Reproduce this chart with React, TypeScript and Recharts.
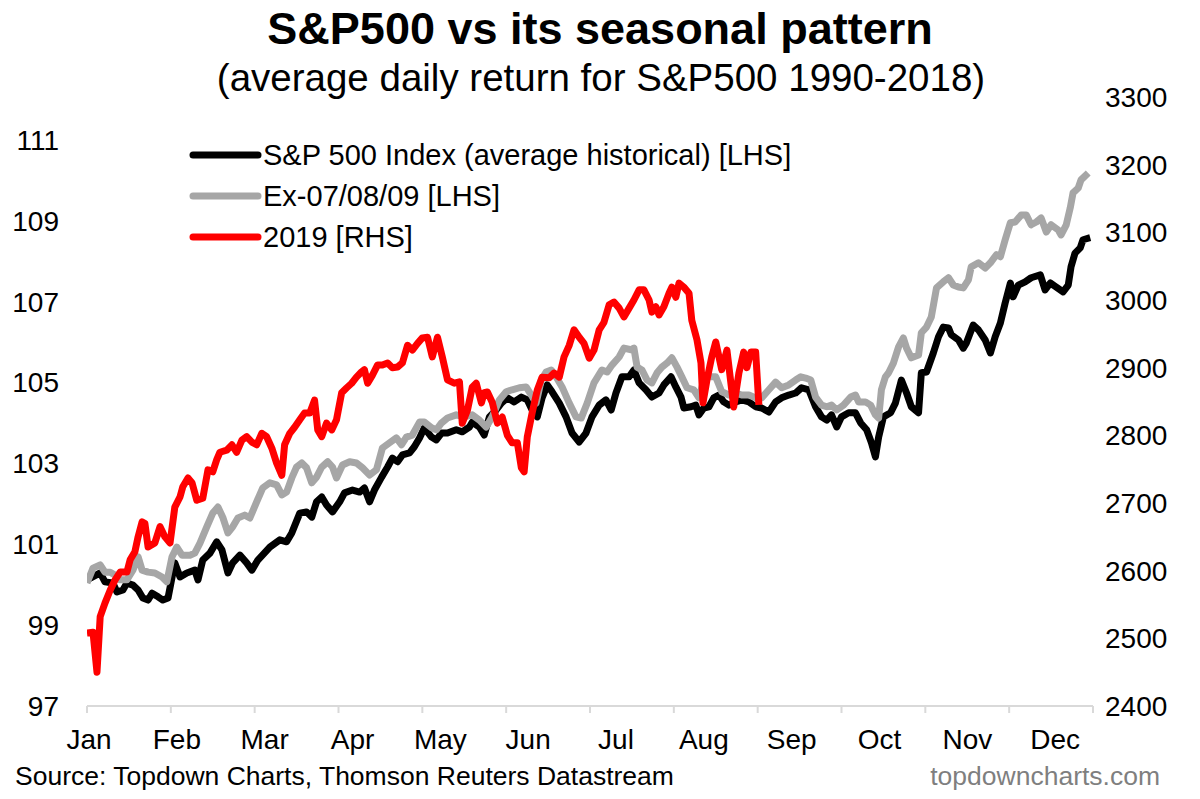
import React from 'react';
import { LineChart, Line, XAxis, YAxis } from 'recharts';

// trading-day index (0..252) vs value
const avgHistorical: [number, number][] = [
    [0, 100.12], [3.3, 100.29], [4.5, 100.07], [6.5, 100.04], [7.5, 99.82], [9, 99.87], [10, 100.04], [11.5, 99.99],
    [12.8, 99.87], [14, 99.67], [15.3, 99.62], [16.3, 99.79], [17.8, 99.7], [19, 99.62], [20.3, 99.67], [22, 100.54],
    [23.3, 100.19], [25, 100.29], [27, 100.36], [27.8, 100.12], [29, 100.61], [30.8, 100.78], [32.5, 101.06], [33.8, 100.86],
    [35.3, 100.29], [36.5, 100.54], [38.3, 100.73], [40, 100.54], [41.3, 100.36], [42.8, 100.61], [45.8, 100.93], [48.3, 101.11],
    [50, 101.06], [51.3, 101.28], [53.3, 101.77], [55, 101.8], [56.3, 101.67], [57.5, 102.05], [58.8, 102.17], [60, 101.97],
    [61.5, 101.8], [63.3, 102.05], [64.5, 102.27], [66.5, 102.34], [68.3, 102.29], [69.5, 102.39], [70.8, 102.05], [72, 102.34],
    [73.8, 102.66], [75.3, 102.91], [76.5, 103.13], [77.8, 103.04], [79, 103.21], [80.8, 103.26], [82, 103.41], [83.3, 103.63],
    [84.5, 103.88], [86.3, 103.65], [87.5, 103.58], [88.8, 103.75], [90.3, 103.75], [92.5, 103.83], [94, 103.78], [95.8, 103.9],
    [96.5, 104.02], [98.3, 103.9], [99.5, 103.7], [100.8, 104.15], [102.5, 104.32], [103.8, 104.49], [105.3, 104.62], [107, 104.52],
    [108.8, 104.64], [110.3, 104.57], [111.5, 104.32], [112.8, 104.15], [114, 104.62], [115.3, 104.94], [116.5, 104.77], [118.3, 104.49],
    [120, 104.15], [121.5, 103.75], [123.3, 103.53], [125, 103.75], [126.5, 104.15], [128.3, 104.44], [130, 104.57], [131.3, 104.32],
    [132.5, 104.74], [134, 105.14], [135.8, 105.14], [137, 105.31], [138.3, 104.99], [140, 104.82], [141.5, 104.64], [143.3, 104.74],
    [144.5, 104.94], [146.3, 105.14], [147.5, 104.89], [148.8, 104.64], [149.5, 104.37], [151.3, 104.4], [152.5, 104.44], [153.3, 104.2],
    [154.5, 104.37], [155.8, 104.4], [157, 104.62], [158.3, 104.69], [159.5, 104.52], [160.8, 104.44], [162.5, 104.52], [164, 104.57],
    [165.8, 104.52], [167.5, 104.4], [169, 104.37], [170.8, 104.27], [172.5, 104.52], [174, 104.62], [175.8, 104.69], [177.5, 104.74],
    [179, 104.87], [180.8, 104.82], [182.5, 104.4], [184, 104.15], [185.3, 104.07], [186.5, 104.2], [187.8, 103.9], [189, 104.15],
    [190.8, 104.25], [192.5, 104.25], [193.8, 104.0], [195.3, 103.83], [196.5, 103.51], [197.5, 103.16], [198.3, 103.65], [199.5, 104.15],
    [201.3, 104.25], [202.5, 104.49], [204, 105.06], [205.3, 104.74], [206.5, 104.4], [208.3, 104.25], [209, 105.24], [210.3, 105.26],
    [212, 105.73], [213.3, 106.13], [214.5, 106.37], [215.8, 106.35], [216.5, 106.18], [218.3, 106.05], [219.5, 105.85], [220.3, 105.98],
    [222, 106.42], [223.3, 106.3], [225, 106.05], [226.3, 105.73], [227.5, 106.13], [228.8, 106.47], [230, 106.97], [231.3, 107.46],
    [232, 107.12], [233.3, 107.41], [235, 107.49], [236.5, 107.59], [238.8, 107.66], [240, 107.29], [241.3, 107.46], [242.8, 107.36],
    [244.5, 107.24], [245.8, 107.41], [246.5, 107.86], [247.5, 108.2], [248.8, 108.33], [249.5, 108.53], [251.3, 108.58],
];

const ex070809: [number, number][] = [
    [0, 100.04], [1.5, 100.41], [3.3, 100.49], [4.5, 100.31], [5.8, 100.31], [7, 100.24], [8.3, 100.12], [10, 100.12],
    [11.5, 100.36], [12.8, 100.69], [13.8, 100.36], [15.3, 100.31], [17, 100.29], [18.8, 100.19], [20, 100.07], [21.3, 100.69],
    [22.5, 100.93], [23.8, 100.73], [25.8, 100.73], [27, 100.78], [28.3, 101.03], [30, 101.43], [31.5, 101.77], [32.8, 101.92],
    [34, 101.67], [35.3, 101.28], [36.5, 101.43], [37.8, 101.65], [39.5, 101.72], [40.8, 101.65], [42.5, 102.05], [44, 102.39],
    [45.8, 102.52], [47.5, 102.47], [48.8, 102.22], [50, 102.29], [51.3, 102.64], [52.5, 102.91], [53.8, 103.01], [55, 102.89],
    [56.3, 102.52], [57.5, 102.66], [58.8, 102.91], [60.3, 103.04], [61.5, 102.91], [62.5, 102.64], [64, 102.96], [65.8, 103.04],
    [67.5, 103.01], [69, 102.89], [70.8, 102.71], [72.5, 102.84], [74, 103.38], [75.8, 103.51], [77.5, 103.63], [78.8, 103.46],
    [80, 103.65], [81.5, 103.7], [83.3, 104.02], [84.5, 104.02], [86.3, 103.88], [87.5, 103.83], [88.8, 104.0], [90.3, 104.12],
    [92.5, 104.2], [94.5, 104.15], [96.5, 104.2], [98.3, 104.07], [100, 103.9], [101.5, 104.15], [103.3, 104.57], [105, 104.77],
    [106.5, 104.82], [108.3, 104.87], [110, 104.89], [111.3, 104.69], [112.5, 104.49], [113.8, 105.06], [115, 105.26], [116.3, 105.31],
    [117.5, 105.14], [119, 104.89], [120.8, 104.49], [122.5, 104.15], [123.8, 104.12], [125.3, 104.49], [127, 104.99], [129, 105.31],
    [130.3, 105.26], [131.5, 105.43], [133.3, 105.63], [134.5, 105.85], [136.3, 105.81], [137, 105.85], [137.8, 105.38], [139, 105.31],
    [140.3, 105.06], [141.5, 104.99], [142.8, 105.24], [144, 105.38], [145.3, 105.48], [146.5, 105.61], [147.8, 105.38], [149, 105.14],
    [150.3, 104.87], [152, 104.82], [153.3, 104.62], [154.5, 105.06], [155.8, 105.14], [157.5, 105.14], [159, 104.77], [160.8, 104.69],
    [162.5, 104.74], [164, 104.69], [165.8, 104.69], [167.5, 104.62], [169, 104.62], [170.8, 104.82], [172.5, 105.01], [174, 104.87],
    [175.8, 104.94], [177.5, 105.06], [178.8, 105.14], [180, 105.11], [181.3, 105.06], [182.5, 104.64], [184, 104.44], [185.3, 104.4],
    [186.5, 104.44], [187.8, 104.32], [189.5, 104.44], [191.3, 104.64], [192.5, 104.69], [193.3, 104.52], [195, 104.52], [196.3, 104.44],
    [197.5, 104.2], [198.3, 104.12], [199, 104.82], [200, 105.14], [200.8, 105.24], [202, 105.48], [203.3, 105.88], [204.5, 106.1],
    [205.3, 105.85], [206.5, 105.61], [208.3, 105.68], [209, 106.23], [210.3, 106.37], [211.5, 106.62], [212.8, 107.34], [214.5, 107.49],
    [215.8, 107.59], [217, 107.41], [218.3, 107.36], [219.5, 107.34], [220.8, 107.54], [221.5, 107.86], [223.3, 107.96], [225, 107.83],
    [226.3, 107.96], [227.8, 108.16], [228.8, 108.11], [230, 108.53], [231.3, 108.95], [232.5, 108.97], [234, 109.14], [235.3, 109.14],
    [236.5, 108.9], [237.8, 108.97], [239, 109.07], [240.3, 108.72], [241.5, 108.9], [243.3, 108.77], [244, 108.65], [245.3, 108.9],
    [246.3, 109.32], [247, 109.69], [248.3, 109.81], [249, 110.01], [250.8, 110.18],
];

const spx2019: [number, number][] = [
    [0, 2508], [1.5, 2509], [2.5, 2450], [3.3, 2532], [4.5, 2552], [5.8, 2571], [7, 2586], [8.3, 2598],
    [10, 2598], [10.8, 2616], [12, 2628], [12.8, 2650], [13.8, 2672], [14.5, 2670], [15.3, 2635], [17, 2641],
    [18.3, 2665], [19.5, 2650], [20.8, 2641], [22, 2694], [23.3, 2709], [24, 2724], [25.3, 2737], [26.3, 2730],
    [27.5, 2704], [29, 2707], [30.3, 2749], [31.5, 2746], [32.5, 2764], [33.3, 2775], [35, 2778], [36.3, 2786],
    [37.5, 2775], [38.8, 2793], [40, 2798], [41.3, 2790], [42.5, 2786], [43.8, 2803], [45, 2798], [46.3, 2781],
    [47.5, 2759], [48.8, 2741], [49.5, 2786], [50.8, 2803], [52, 2812], [53.3, 2823], [54.5, 2833], [55.8, 2833],
    [57, 2852], [57.8, 2808], [58.8, 2798], [60, 2818], [61.3, 2808], [62.5, 2823], [63.8, 2863], [65, 2870],
    [66.3, 2877], [67.5, 2886], [68.8, 2894], [69.5, 2897], [70.3, 2877], [71.5, 2889], [72.8, 2904], [74, 2904],
    [75.3, 2907], [76.5, 2900], [77.8, 2901], [79, 2907], [80.3, 2933], [81.5, 2926], [82.8, 2936], [84, 2944],
    [85.3, 2945], [86.5, 2916], [87.8, 2945], [89, 2916], [90.3, 2882], [92, 2877], [93.3, 2879], [94, 2818],
    [95.3, 2837], [96.5, 2871], [97.5, 2877], [98.8, 2848], [99.5, 2863], [100.3, 2864], [101.5, 2849], [102.8, 2818],
    [104, 2827], [105.3, 2800], [106.5, 2789], [107.8, 2789], [108.8, 2752], [109.5, 2746], [110.3, 2798], [111.5, 2833],
    [112.8, 2867], [114, 2886], [115.8, 2885], [117, 2892], [118.3, 2886], [119.5, 2916], [120.8, 2933], [122, 2956],
    [123.3, 2945], [124.5, 2936], [125.8, 2914], [127, 2926], [128.3, 2956], [129.5, 2967], [130.8, 2993], [132, 2997],
    [133.3, 2988], [134.5, 2975], [135.8, 2988], [137, 3000], [138.3, 3015], [139.5, 3015], [140.8, 3000], [141.5, 2982],
    [142.5, 2990], [143.3, 2978], [144.5, 2990], [145.8, 3010], [146.5, 3019], [147.5, 3004], [148.3, 3025], [149.5, 3019],
    [150.8, 3010], [151.5, 2970], [152.8, 2941], [153.8, 2907], [154.3, 2848], [155.3, 2882], [156.5, 2916], [157.5, 2938],
    [158.3, 2916], [159, 2897], [160.3, 2926], [161.3, 2877], [162, 2842], [163.3, 2892], [164.5, 2923], [165.3, 2900],
    [166.3, 2923], [167.5, 2923], [168.3, 2845],
];

const months = ['Jan', 'Feb', 'Mar', 'Apr', 'May', 'Jun', 'Jul', 'Aug', 'Sep', 'Oct', 'Nov', 'Dec'];
const monthStarts = [0, 21, 42, 63, 84, 105, 126, 147, 168, 189, 210, 231, 252];
const lhsTicks = [97, 99, 101, 103, 105, 107, 109, 111];
const rhsTicks = [2400, 2500, 2600, 2700, 2800, 2900, 3000, 3100, 3200, 3300];

const seriesNames = [
    { title: 'S&P 500 Index (average historical) [LHS]', color: '#000000' },
    { title: 'Ex-07/08/09 [LHS]', color: '#a6a6a6' },
    { title: '2019 [RHS]', color: '#ff0000' },
];

const toRows = (pts: [number, number][]) => pts.map(([day, value]) => ({ day, value }));

const FONT = '"Liberation Sans", Arial, sans-serif';

const MonthTick = (props: any) => {
    const { x, y, index } = props;
    if (index >= months.length) return <g />;
    return (
        <text x={x + 2 + index * 4} y={y + 36} textAnchor="middle" fontSize={28} fontFamily={FONT} fill="#000">
            {months[index]}
        </text>
    );
};

export default function App() {
    return (
        <div style={{ position: 'absolute', left: 0, top: 0, width: 1200, height: 799, background: '#fff' }}>
            <LineChart
                width={1200}
                height={799}
                margin={{ top: 97, right: 0, bottom: 53, left: 0 }}
                style={{ fontFamily: FONT }}
            >
                <XAxis
                    type="number"
                    dataKey="day"
                    domain={[0, 252]}
                    ticks={monthStarts}
                    interval={0}
                    height={40}
                    axisLine={{ stroke: '#d9d9d9', strokeWidth: 2 }}
                    tickLine={{ stroke: '#d9d9d9', strokeWidth: 2 }}
                    tickSize={7}
                    tickMargin={0}
                    tick={<MonthTick />}
                    allowDataOverflow
                />
                <YAxis
                    yAxisId="lhs"
                    domain={[97, 112.06]}
                    ticks={lhsTicks}
                    width={87}
                    axisLine={false}
                    tickLine={false}
                    tickSize={0}
                    tickMargin={28}
                    allowDataOverflow
                    tick={{ fontSize: 28, fill: '#000', fontFamily: FONT }}
                />
                <YAxis
                    yAxisId="rhs"
                    orientation="right"
                    domain={[2400, 3300]}
                    ticks={rhsTicks}
                    width={107}
                    axisLine={false}
                    tickLine={false}
                    tickSize={0}
                    tickMargin={12}
                    allowDataOverflow
                    tick={{ fontSize: 28, fill: '#000', fontFamily: FONT, textAnchor: 'start' }}
                />
                <Line
                    yAxisId="lhs"
                    data={toRows(avgHistorical)}
                    dataKey="value"
                    type="linear"
                    stroke={seriesNames[0].color}
                    strokeWidth={7}
                    strokeLinejoin="round"
                    dot={false}
                    isAnimationActive={false}
                />
                <Line
                    yAxisId="lhs"
                    data={toRows(ex070809)}
                    dataKey="value"
                    type="linear"
                    stroke={seriesNames[1].color}
                    strokeWidth={7}
                    strokeLinejoin="round"
                    dot={false}
                    isAnimationActive={false}
                />
                <Line
                    yAxisId="rhs"
                    data={toRows(spx2019)}
                    dataKey="value"
                    type="linear"
                    stroke={seriesNames[2].color}
                    strokeWidth={7}
                    strokeLinejoin="round"
                    dot={false}
                    isAnimationActive={false}
                />
            </LineChart>
            <svg
                width={1200}
                height={799}
                style={{ position: 'absolute', left: 0, top: 0, pointerEvents: 'none' }}
                fontFamily={FONT}
            >
                <text x={600} y={44} textAnchor="middle" fontSize={45} fontWeight="bold" fill="#000">
                    S&amp;P500 vs its seasonal pattern
                </text>
                <text x={601} y={91} textAnchor="middle" fontSize={38.5} fill="#000">
                    (average daily return for S&amp;P500 1990-2018)
                </text>
                {seriesNames.map((s, i) => (
                    <g key={s.title}>
                        <line
                            x1={193}
                            x2={258}
                            y1={155 + i * 41}
                            y2={155 + i * 41}
                            stroke={s.color}
                            strokeWidth={7}
                            strokeLinecap="round"
                        />
                        <text x={263} y={165 + i * 41} fontSize={29} fill="#000">
                            {s.title}
                        </text>
                    </g>
                ))}
                <text x={15} y={785} fontSize={26.5} fill="#000">
                    Source: Topdown Charts, Thomson Reuters Datastream
                </text>
                <text x={1160} y={785} fontSize={26.5} textAnchor="end" fill="#7f7f7f">
                    topdowncharts.com
                </text>
            </svg>
        </div>
    );
}
